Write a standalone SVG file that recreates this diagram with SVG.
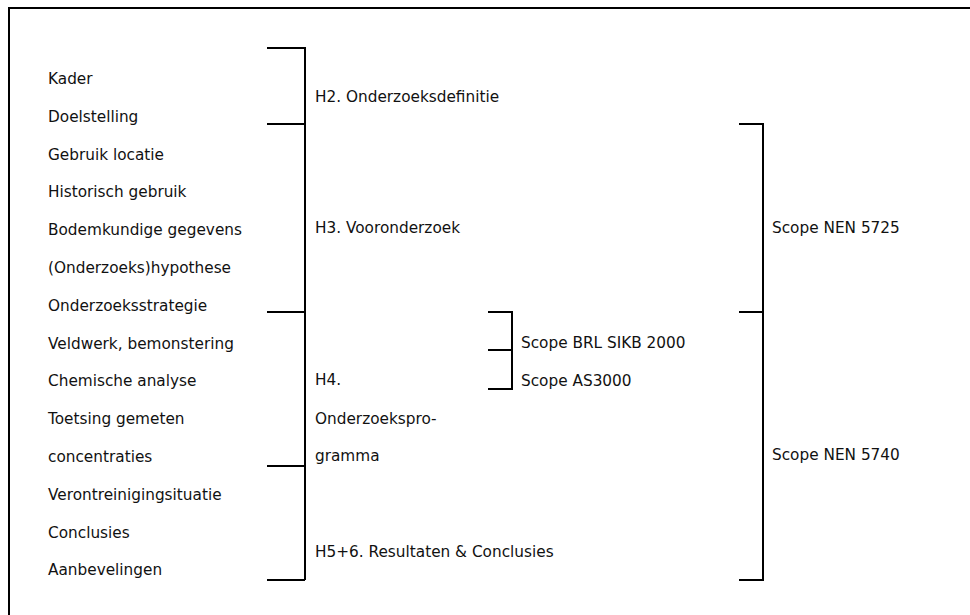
<svg xmlns="http://www.w3.org/2000/svg" width="970" height="615" viewBox="0 0 970 615">
<style>
text{font-family:"DejaVu Sans","Liberation Sans",sans-serif;font-size:15.3px;fill:#111}
.b{fill:none;stroke:#000;stroke-width:2}
</style>
<rect x="0" y="0" width="970" height="615" fill="#fff"/>
<path class="b" d="M9,615 V8 H970"/>
<g id="items">
<text x="48" y="84">Kader</text>
<text x="48" y="121.8">Doelstelling</text>
<text x="48" y="159.6">Gebruik locatie</text>
<text x="48" y="197.4">Historisch gebruik</text>
<text x="48" y="235.2">Bodemkundige gegevens</text>
<text x="48" y="273">(Onderzoeks)hypothese</text>
<text x="48" y="310.8">Onderzoeksstrategie</text>
<text x="48" y="348.6">Veldwerk, bemonstering</text>
<text x="48" y="386.4">Chemische analyse</text>
<text x="48" y="424.2">Toetsing gemeten</text>
<text x="48" y="462">concentraties</text>
<text x="48" y="499.8">Verontreinigingsituatie</text>
<text x="48" y="537.6">Conclusies</text>
<text x="48" y="575.4">Aanbevelingen</text>
</g>
<g id="connectors">
<path class="b" d="M267,48 H305 V580 M267,124 H305 M267,312 H305 M267,466 H305 M267,580 H305"/>
<path class="b" d="M739,124 H763 V580 H739 M739,312 H763"/>
<path class="b" d="M488,312 H512 V389 H488 M488,350 H512"/>
</g>
<g id="h2"><text x="315" y="102">H2. Onderzoeksdefinitie</text></g>
<g id="h3"><text x="315" y="233">H3. Vooronderzoek</text></g>
<g id="h4"><text x="315" y="385">H4.</text><text x="315" y="424">Onderzoekspro-</text><text x="315" y="461">gramma</text></g>
<g id="h56"><text x="315" y="557">H5+6. Resultaten &amp; Conclusies</text></g>
<g id="brl"><text x="521" y="348">Scope BRL SIKB 2000</text></g>
<g id="as3000"><text x="521" y="386">Scope AS3000</text></g>
<g id="nen5725"><text x="772" y="233">Scope NEN 5725</text></g>
<g id="nen5740"><text x="772" y="460">Scope NEN 5740</text></g>
</svg>
